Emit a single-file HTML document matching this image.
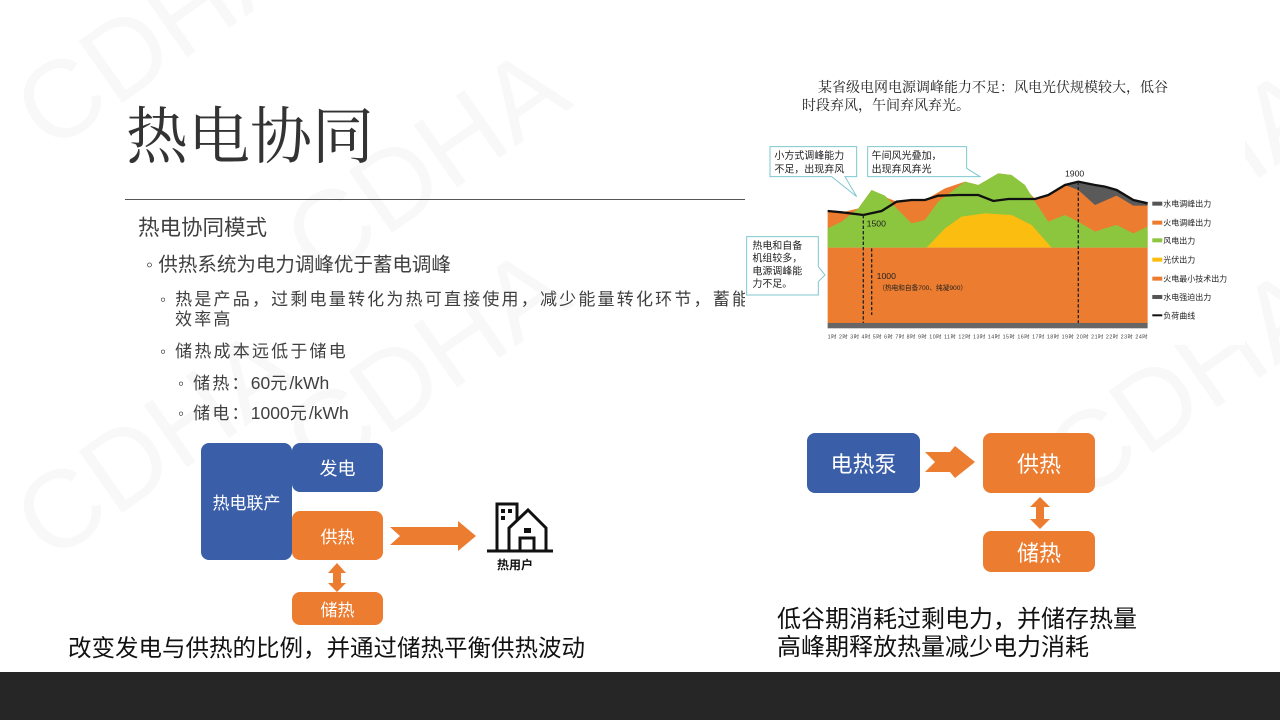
<!DOCTYPE html>
<html><head><meta charset="utf-8"><style>
*{margin:0;padding:0}
body{width:1280px;height:720px;background:#fff;position:relative;overflow:hidden;font-family:"Liberation Sans","Noto Sans CJK SC",sans-serif;color:#404040}
.a{position:absolute;white-space:nowrap}
.box{position:absolute;border-radius:8px;color:#fff;display:flex;align-items:center;justify-content:center}
.b{background:#3a5ea8}.o{background:#ec7c30}
.wm{position:absolute;font-size:110px;color:#f8f8f8;transform:rotate(-35deg);font-family:"Liberation Sans",sans-serif}
.s{font-size:17px;line-height:22px;letter-spacing:2.2px}
.n{letter-spacing:0;font-size:17.5px}
</style></head><body>
<div class="wm" style="left:0;top:-30px">CDHA</div>
<div class="wm" style="left:270px;top:100px">CDHA</div>
<div class="wm" style="left:0;top:380px">CDHA</div>
<div class="wm" style="left:270px;top:300px">CDHA</div>
<div class="wm" style="left:1030px;top:320px">CDHA</div>
<div class="wm" style="left:1030px;top:120px">CDHA</div>

<div class="a" style="left:126px;top:100px;font-size:62px;line-height:76px;font-family:'Liberation Serif','Noto Serif CJK SC',serif;color:#333">热电协同</div>
<div class="a" style="left:125px;top:199px;width:620px;height:1px;background:#555"></div>
<div class="a" style="left:138px;top:213px;font-size:21.5px;line-height:30px">热电协同模式</div>
<div class="a" style="left:146px;top:250px;font-size:19.5px;line-height:30px">◦ 供热系统为电力调峰优于蓄电调峰</div>
<div class="a s" style="left:160px;top:289px">◦ 热是产品，过剩电量转化为热可直接使用，减少能量转化环节，蓄能</div>
<div class="a s" style="left:175px;top:309px">效率高</div>
<div class="a s" style="left:160px;top:341px">◦ 储热成本远低于储电</div>
<div class="a s" style="left:178px;top:372px">◦ 储热：<span class="n">60</span>元<span class="n">/kWh</span></div>
<div class="a s" style="left:178px;top:402px">◦ 储电：<span class="n">1000</span>元<span class="n">/kWh</span></div>

<div class="a" style="left:745px;top:75px;width:500px;height:270px;background:#fff"></div>
<div class="a" style="left:818px;top:79px;font-size:14px;line-height:20px;color:#222;font-family:'Liberation Serif','Noto Serif CJK SC',serif">某省级电网电源调峰能力不足：风电光伏规模较大，低谷</div>
<div class="a" style="left:802px;top:97px;font-size:14px;line-height:20px;color:#222;font-family:'Liberation Serif','Noto Serif CJK SC',serif">时段弃风，午间弃风弃光。</div>
<svg class="a" style="left:0;top:0" width="1280" height="720">
<g transform="translate(745,75) scale(0.3333)">
<path d="M248,408 300,410 340,400 380,345 430,370 455,380 540,375 600,340 660,320 700,330 760,295 800,300 850,350 870,372 910,360 960,330 1000,320 1080,335 1115,345 1165,375 1208,385 1208,518 248,518Z" fill="#ec7c30"/>
<path d="M248,460 290,440 340,400 380,345 420,362 455,400 500,445 540,435 580,380 620,350 660,320 700,330 760,295 800,300 840,330 870,380 910,440 960,420 1000,440 1050,470 1080,460 1115,450 1165,475 1208,455 1208,518 248,518Z" fill="#8cc63f"/>
<path d="M545,518 600,460 650,425 720,415 800,420 860,450 920,518Z" fill="#fbbd10"/>
<path d="M960,330 1000,320 1080,335 1115,345 1165,375 1208,385 1208,392 1165,392 1115,362 1050,390 1000,345Z" fill="#5a5a5a"/>
<rect x="248" y="518" width="960" height="228" fill="#ec7c30"/>
<rect x="248" y="744" width="960" height="16" fill="#666"/>
<polyline points="248,408 290,412 355,420 410,408 455,380 500,375 540,375 580,362 640,360 700,360 745,378 790,372 870,372 910,360 960,330 1000,320 1050,330 1080,335 1115,345 1165,375 1208,385" fill="none" stroke="#111" stroke-width="7"/>
<line x1="355" y1="420" x2="355" y2="744" stroke="#222" stroke-width="4" stroke-dasharray="10,6"/>
<line x1="380" y1="520" x2="380" y2="720" stroke="#222" stroke-width="4" stroke-dasharray="10,6"/>
<line x1="1000" y1="320" x2="1000" y2="744" stroke="#222" stroke-width="4" stroke-dasharray="10,6"/>
<text x="365" y="455" font-size="26" fill="#222">1500</text>
<text x="960" y="305" font-size="26" fill="#222">1900</text>
<text x="395" y="612" font-size="26" fill="#222">1000</text>
<text x="400" y="645" font-size="20" fill="#222">（热电和自备700、纯凝900）</text>
<g font-size="24" fill="#222">
<rect x="1222" y="380" width="30" height="12" fill="#555"/><text x="1255" y="395">水电调峰出力</text>
<rect x="1222" y="437" width="30" height="12" fill="#ec7c30"/><text x="1255" y="452">火电调峰出力</text>
<rect x="1222" y="490" width="30" height="12" fill="#8cc63f"/><text x="1255" y="505">风电出力</text>
<rect x="1222" y="548" width="30" height="12" fill="#fbbd10"/><text x="1255" y="563">光伏出力</text>
<rect x="1222" y="605" width="30" height="12" fill="#ec7c30"/><text x="1255" y="620">火电最小技术出力</text>
<rect x="1222" y="660" width="30" height="12" fill="#555"/><text x="1255" y="675">水电强迫出力</text>
<rect x="1222" y="718" width="30" height="6" fill="#111"/><text x="1255" y="730">负荷曲线</text>
</g>
<text x="248" y="790" font-size="16" fill="#444" textLength="960">1时 2时 3时 4时 5时 6时 7时 8时 9时 10时 11时 12时 13时 14时 15时 16时 17时 18时 19时 20时 21时 22时 23时 24时</text>
<g fill="#fff" stroke="#7fc7cf" stroke-width="3">
<path d="M75,215 H335 V305 H300 L335,365 L260,305 H75Z"/>
<path d="M368,215 H665 V280 L705,305 L600,305 H368Z"/>
<path d="M5,485 H220 V575 L240,600 L220,620 V660 H5Z"/>
</g>
<g font-size="30" fill="#222">
<text x="88" y="252">小方式调峰能力</text><text x="88" y="292">不足，出现弃风</text>
<text x="380" y="252">午间风光叠加，</text><text x="380" y="292">出现弃风弃光</text>
<text x="22" y="522">热电和自备</text><text x="22" y="560">机组较多，</text><text x="22" y="598">电源调峰能</text><text x="22" y="636">力不足。</text>
</g>
</g>
<path d="M390,527 L458,527 L458,521 L476,536 L458,551 L458,545 L390,545 L400,536Z" fill="#ec7c30"/>
<path d="M337,563 L346,573 L341,573 L341,583 L346,583 L337,592 L328,583 L333,583 L333,573 L328,573Z" fill="#ec7c30"/>
<g fill="none" stroke="#111" stroke-width="3">
<path d="M497,550 V504 H517 V520"/>
<path d="M509,550 V528 L528,510 L546,528 V550"/>
<path d="M520,550 V538 H534 V550"/>
<line x1="487" y1="551" x2="553" y2="551"/>
</g>
<g fill="#111"><rect x="501" y="509" width="4" height="4"/><rect x="508" y="509" width="4" height="4"/><rect x="501" y="516" width="4" height="4"/><rect x="524" y="528" width="7" height="5"/></g>
<path d="M925,452 L950,452 L955,446 L975,462 L955,478 L950,472 L925,472 L935,462Z" fill="#ec7c30"/>
<path d="M1040,497 L1050,507 L1044,507 L1044,519 L1050,519 L1040,529 L1030,519 L1036,519 L1036,507 L1030,507Z" fill="#ec7c30"/>
</svg>
<div class="a" style="left:497px;top:556px;font-size:12px;color:#111;font-weight:bold">热用户</div>

<div class="box b" style="left:201px;top:443px;width:91px;height:117px;font-size:17px">热电联产</div>
<div class="box b" style="left:292px;top:443px;width:91px;height:49px;font-size:18px">发电</div>
<div class="box o" style="left:292px;top:511px;width:91px;height:49px;font-size:17px">供热</div>
<div class="box o" style="left:292px;top:592px;width:91px;height:33px;font-size:17px">储热</div>
<div class="a" style="left:68px;top:633px;font-size:23.5px;line-height:30px;color:#111">改变发电与供热的比例，并通过储热平衡供热波动</div>

<div class="box b" style="left:807px;top:433px;width:113px;height:60px;font-size:22px">电热泵</div>
<div class="box o" style="left:983px;top:433px;width:112px;height:60px;font-size:22px">供热</div>
<div class="box o" style="left:983px;top:531px;width:112px;height:41px;font-size:22px">储热</div>
<div class="a" style="left:777px;top:605px;font-size:24px;line-height:30px;color:#111">低谷期消耗过剩电力，并储存热量</div>
<div class="a" style="left:777px;top:633px;font-size:24px;line-height:30px;color:#111">高峰期释放热量减少电力消耗</div>

<div class="a" style="left:0;top:672px;width:1280px;height:48px;background:#262626"></div>
</body></html>
